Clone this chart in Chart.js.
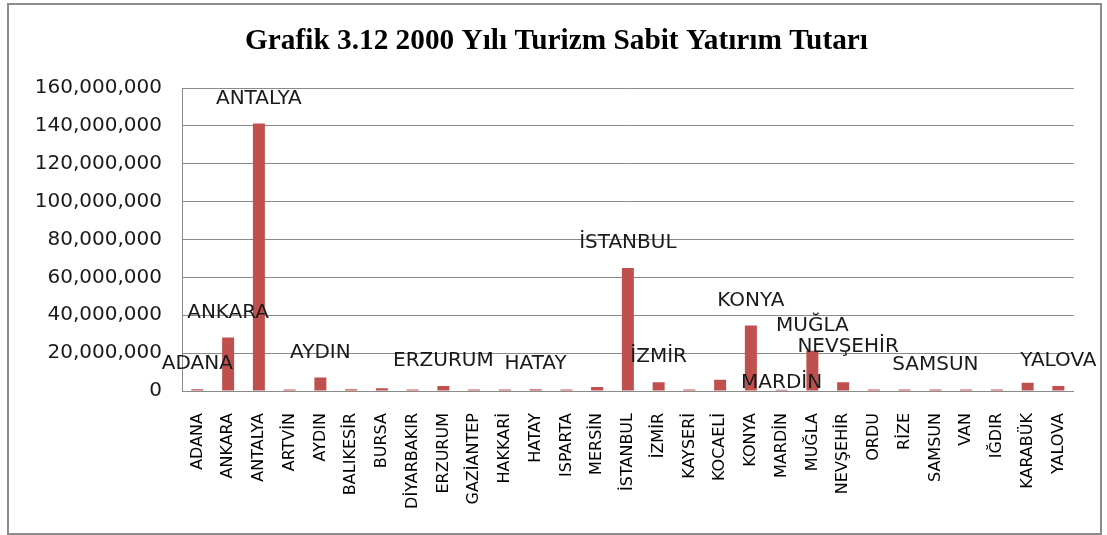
<!DOCTYPE html>
<html>
<head>
<meta charset="utf-8">
<script src="https://cdn.jsdelivr.net/npm/chart.js@4/dist/chart.umd.min.js"></script>
<style>
  html, body { margin: 0; padding: 0; background: #fff; }
  #kutu {
    position: absolute; left: 7px; top: 3px;
    width: 1095px; height: 532px;
    border: 2px solid #8c8c8c; box-sizing: border-box;
  }
  #grafik { display: block; }
</style>
</head>
<body>
<div id="kutu"><canvas id="grafik" width="1091" height="528"></canvas></div>
<script>
// iller ve 2000 yili turizm sabit yatirim tutarlari (TL)
const iller = ['ADANA', 'ANKARA', 'ANTALYA', 'ARTVİN', 'AYDIN', 'BALIKESİR', 'BURSA', 'DİYARBAKIR',
  'ERZURUM', 'GAZİANTEP', 'HAKKARİ', 'HATAY', 'ISPARTA', 'MERSİN', 'İSTANBUL', 'İZMİR', 'KAYSERİ',
  'KOCAELİ', 'KONYA', 'MARDİN', 'MUĞLA', 'NEVŞEHİR', 'ORDU', 'RİZE', 'SAMSUN', 'VAN', 'IĞDIR',
  'KARABÜK', 'YALOVA'];
const tutarlar = [900000, 28200000, 141300000, 800000, 7100000, 900000, 1500000, 800000,
  2700000, 800000, 800000, 900000, 800000, 2100000, 65000000, 4600000, 800000,
  5900000, 34600000, 600000, 21300000, 4600000, 800000, 800000, 800000, 800000, 800000,
  4400000, 2600000];
// etiketi gosterilen iller
const etiketliIller = ['ADANA', 'ANKARA', 'ANTALYA', 'AYDIN', 'ERZURUM', 'HATAY', 'İSTANBUL',
  'İZMİR', 'KONYA', 'MARDİN', 'MUĞLA', 'NEVŞEHİR', 'SAMSUN', 'YALOVA'];
const baslik = 'Grafik 3.12 2000 Yılı Turizm Sabit Yatırım Tutarı';
const eksenMax = 160000000;
const eksenAdim = 20000000;

const gri = '#8a8a8a';

// baslik: tum kutunun ortasina (chart.js title sag boslugu hesaba katiyor)
const baslikEklentisi = {
  id: 'baslik',
  afterDraw(chart) {
    const ctx = chart.ctx;
    ctx.save();
    ctx.font = 'bold 29.3px "Liberation Serif"';
    ctx.fillStyle = '#000';
    ctx.textAlign = 'center';
    ctx.textBaseline = 'middle';
    ctx.fillText(baslik, chart.width / 2 + 2, 36);
    ctx.restore();
  }
};

// cubuk ustu etiketler (Excel'deki gibi, bazilari elle kaydirilmis)
const etiketEklentisi = {
  id: 'etiketler',
  afterDatasetsDraw(chart) {
    const meta = chart.getDatasetMeta(0);
    const ctx = chart.ctx;
    ctx.save();
    ctx.font = '20px "DejaVu Sans"';
    ctx.fillStyle = '#1a1a1a';
    ctx.textAlign = 'center';
    ctx.textBaseline = 'middle';
    etiketliIller.forEach(il => {
      const i = iller.indexOf(il);
      const bar = meta.data[i];
      let yukari = 25;
      if (il === 'MARDİN') yukari = 7;
      if (il === 'NEVŞEHİR') yukari = 35;
      ctx.fillText(il, bar.x + (il === 'NEVŞEHİR' ? 5 : 0), bar.y - yukari);
    });
    ctx.restore();
  }
};

new Chart(document.getElementById('grafik').getContext('2d'), {
  type: 'bar',
  data: {
    labels: iller,
    datasets: [{
      data: tutarlar,
      backgroundColor: '#C0504D',
      barPercentage: 0.39,
      categoryPercentage: 1.0
    }]
  },
  options: {
    responsive: false,
    animation: false,
    layout: { padding: { left: 0, right: 25, top: 83, bottom: 0 } },
    plugins: {
      legend: { display: false },
      tooltip: { enabled: false },
      title: { display: false }
    },
    scales: {
      x: {
        grid: { display: false, drawTicks: false },
        border: { color: gri, width: 1 },
        ticks: {
          autoSkip: false,
          minRotation: 90,
          maxRotation: 90,
          padding: 22,
          color: '#000',
          font: { family: '"DejaVu Sans"', size: 16 }
        },
        afterFit(scale) { scale.height = 142; }
      },
      y: {
        min: 0,
        max: eksenMax,
        grid: { color: gri, drawTicks: false },
        border: { color: gri, width: 1 },
        ticks: {
          stepSize: eksenAdim,
          padding: 20,
          color: '#1a1a1a',
          font: { family: '"DejaVu Sans"', size: 20 },
          callback: v => v.toLocaleString('en-US')
        },
        afterFit(scale) { scale.width = 173; }
      }
    }
  },
  plugins: [etiketEklentisi, baslikEklentisi]
});
</script>
</body>
</html>
